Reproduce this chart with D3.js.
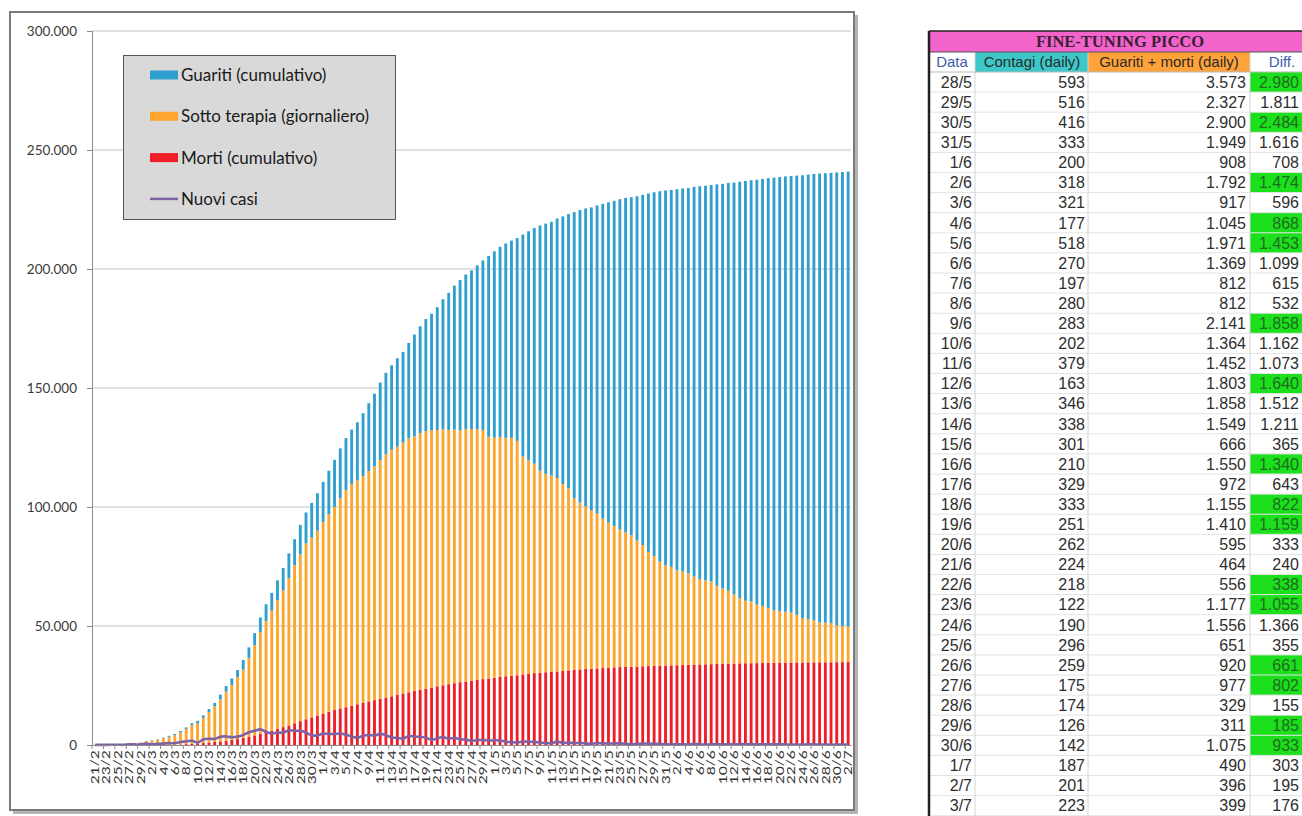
<!DOCTYPE html>
<html>
<head>
<meta charset="utf-8">
<script src="https://cdn.jsdelivr.net/npm/d3@7"></script>
<style>
  body { margin: 0; background: #fff; }
  svg { display: block; }
</style>
</head>
<body>
<script>
// categories: one per day, 21/2 .. 2/7
var dates = [
  "21/2","22/2","23/2","24/2","25/2","26/2","27/2","28/2","29/2",
  "1/3","2/3","3/3","4/3","5/3","6/3","7/3","8/3","9/3","10/3","11/3","12/3","13/3","14/3","15/3","16/3",
  "17/3","18/3","19/3","20/3","21/3","22/3","23/3","24/3","25/3","26/3","27/3","28/3","29/3","30/3","31/3",
  "1/4","2/4","3/4","4/4","5/4","6/4","7/4","8/4","9/4","10/4","11/4","12/4","13/4","14/4","15/4",
  "16/4","17/4","18/4","19/4","20/4","21/4","22/4","23/4","24/4","25/4","26/4","27/4","28/4","29/4","30/4",
  "1/5","2/5","3/5","4/5","5/5","6/5","7/5","8/5","9/5","10/5","11/5","12/5","13/5","14/5","15/5","16/5",
  "17/5","18/5","19/5","20/5","21/5","22/5","23/5","24/5","25/5","26/5","27/5","28/5","29/5","30/5","31/5",
  "1/6","2/6","3/6","4/6","5/6","6/6","7/6","8/6","9/6","10/6","11/6","12/6","13/6","14/6","15/6",
  "16/6","17/6","18/6","19/6","20/6","21/6","22/6","23/6","24/6","25/6","26/6","27/6","28/6","29/6","30/6",
  "1/7","2/7"
];

// Morti (cumulativo)
var morti = [
  1,2,3,7,10,12,17,21,29,
  34,52,79,107,148,197,233,366,463,631,827,1016,1266,1441,1809,2158,2503,2978,3405,4032,4825,5476,6077,6820,7503,8165,9134,10023,10779,11591,12428,
  13155,13915,14681,15362,15887,16523,17127,17669,18279,18849,19468,19899,20465,21067,21645,22170,22745,23227,23660,24114,24648,25085,25549,25969,26384,26644,26977,27359,27682,27967,
  28236,28710,28884,29079,29315,29684,29958,30201,30395,30560,30739,30911,31106,31368,31610,31763,31908,32007,32169,32330,32486,32616,32735,32785,32877,32955,33072,33142,33229,33340,33415,
  33475,33530,33601,33689,33774,33846,33899,33964,34043,34114,34167,34223,34301,34345,34371,34405,34448,34514,34561,34610,34634,34657,34675,34678,34708,34716,34738,34744,34767,34788,
  34818,34833
];

// Sotto terapia (giornaliero)
var terapia = [
  19,77,149,221,311,385,588,821,1049,
  1577,1835,2263,2706,3296,3916,5061,6387,7985,8514,10590,12839,14955,17750,20603,23073,26062,28710,33190,37860,42681,46638,50418,54030,57521,62013,66414,70065,73880,75528,77635,
  80572,83049,85388,88274,91246,93187,94067,95262,96877,98273,100269,102253,103616,104291,105418,106607,106962,107771,108257,108237,107709,107699,106848,106527,105847,106103,105813,105205,104657,101551,
  100943,100704,100179,99980,98467,91528,89624,87961,84842,83324,82488,81266,78457,76440,72070,70187,68351,66553,65129,62752,60960,59322,57752,56594,55300,52942,50966,47986,46175,43691,42075,
  41367,39893,39297,38429,36976,35877,35262,34730,32872,31710,30637,28997,27485,26274,25909,24569,23925,23101,21942,21609,21369,21031,19976,18610,18255,17594,16792,16637,16452,15519,
  15216,15021
];

// Guariti (cumulativo)
var guariti = [
  0,0,0,1,1,3,45,46,50,
  83,149,160,276,414,523,589,622,724,1004,1045,1258,1439,1966,2335,2749,2941,4025,4440,5129,6072,7024,7432,8326,9362,10361,10950,12384,13030,14620,15729,
  16847,18278,19758,20996,21815,22837,24392,26491,28470,30455,32534,34211,35435,37130,38092,40164,42727,44927,47055,48877,51600,54543,57576,60498,63120,64928,66624,68941,71252,75945,
  78249,79914,81654,82879,85231,93245,96276,99023,103031,105186,106587,109039,112541,115288,120205,122810,125176,127326,129401,132282,134560,136720,138840,140479,141981,144658,147101,150604,152844,155633,157507,
  158355,160092,160938,161895,163781,165078,165837,166584,168646,169939,171338,173085,174865,176370,177010,178526,179455,180544,181907,182453,182893,183426,184585,186111,186725,187615,188584,188891,189196,190248,
  190717,191083
];

// Nuovi casi
var nuovi = [
  20,59,71,79,93,78,250,238,240,
  566,342,466,587,769,778,1247,1492,1797,977,2313,2651,2547,3497,3590,3233,3526,4207,5322,5986,6557,5560,4789,5249,5210,6153,5959,5974,5217,4050,4053,
  4782,4668,4585,4805,4316,3599,3039,3836,4204,3951,4694,4092,3153,2972,2667,3786,3493,3491,3047,2256,2729,3370,2646,3021,2357,2324,1739,2091,2086,1872,
  1965,1900,1389,1221,1075,1444,1401,1327,1083,802,744,1402,888,992,789,875,675,451,813,665,642,652,669,531,300,397,584,593,516,416,333,
  200,318,321,177,518,270,197,280,283,202,379,163,346,338,301,210,329,333,251,262,224,218,122,190,296,259,175,174,126,142,
  187,201
];

var yTicks = [0, 50000, 100000, 150000, 200000, 250000, 300000];

// table "FINE-TUNING PICCO"
var tblDate = ["28/5","29/5","30/5","31/5","1/6","2/6","3/6","4/6","5/6","6/6","7/6","8/6","9/6","10/6","11/6","12/6","13/6","14/6","15/6","16/6","17/6","18/6","19/6","20/6","21/6","22/6","23/6","24/6","25/6","26/6","27/6","28/6","29/6","30/6","1/7","2/7","3/7"];
var tblContagi = [593,516,416,333,200,318,321,177,518,270,197,280,283,202,379,163,346,338,301,210,329,333,251,262,224,218,122,190,296,259,175,174,126,142,187,201,223];
var tblGuarMorti = [3573,2327,2900,1949,908,1792,917,1045,1971,1369,812,812,2141,1364,1452,1803,1858,1549,666,1550,972,1155,1410,595,464,556,1177,1556,651,920,977,329,311,1075,490,396,399];
var tblDiff = [2980,1811,2484,1616,708,1474,596,868,1453,1099,615,532,1858,1162,1073,1640,1512,1211,365,1340,643,822,1159,333,240,338,1055,1366,355,661,802,155,185,933,303,195,176];
var tblGreen = [1,0,1,0,0,1,0,1,1,0,0,0,1,0,0,1,0,0,0,1,0,1,1,0,0,1,1,0,0,1,1,0,1,1,0,0,0];

var it = d3.formatLocale({decimal: ",", thousands: ".", grouping: [3], currency: ["€", ""]});
var fmt = it.format(",d");

var W = 1302, H = 816;
var svg = d3.select("body").append("svg").attr("width", W).attr("height", H);
svg.append("rect").attr("width", W).attr("height", H).attr("fill", "#fff");

// chart frame with a shadow
svg.append("rect").attr("x", 13).attr("y", 15).attr("width", 845).attr("height", 799).attr("fill", "#b4b4b4");
svg.append("rect").attr("x", 10).attr("y", 12).attr("width", 844).attr("height", 798)
  .attr("fill", "#fff").attr("stroke", "#7a7a7a").attr("stroke-width", 2);

var rows = dates.map(function(d, i) {
  return {date: d, morti: morti[i], terapia: terapia[i], guariti: guariti[i], nuovi: nuovi[i]};
});

var x = d3.scaleBand().domain(dates).range([92, 851]).paddingInner(0.5).paddingOuter(0.25);
var y = d3.scaleLinear().domain([0, 300000]).range([745, 31]);

var g = svg.append("g");

// gridlines
g.selectAll("line.grid").data(yTicks.slice(1)).enter().append("line")
  .attr("class", "grid")
  .attr("x1", 92).attr("x2", 851)
  .attr("y1", function(d) { return y(d); }).attr("y2", function(d) { return y(d); })
  .attr("stroke", "#c4c4c4").attr("stroke-width", 1.2);

// stacked bars
var keys = ["morti", "terapia", "guariti"];
var colors = {morti: "#ef1d26", terapia: "#ffa52e", guariti: "#2f9fcf"};
var series = d3.stack().keys(keys)(rows);

g.selectAll("g.series").data(series).enter().append("g")
  .attr("class", "series")
  .attr("fill", function(s) { return colors[s.key]; })
  .selectAll("rect").data(function(s) { return s; }).enter().append("rect")
  .attr("x", function(d) { return x(d.data.date); })
  .attr("width", x.bandwidth())
  .attr("y", function(d) { return y(d[1]); })
  .attr("height", function(d) { return y(d[0]) - y(d[1]); });

// y axis
var yAxis = d3.axisLeft(y).tickValues(yTicks).tickSize(5).tickPadding(10).tickFormat(fmt);
var ya = svg.append("g").attr("transform", "translate(92,0)").call(yAxis);
ya.select(".domain").attr("stroke", "#8c8c8c");
ya.selectAll(".tick line").attr("stroke", "#8c8c8c");
ya.selectAll("text").attr("font-family", "Lato, 'Open Sans', sans-serif").attr("font-size", 13.5).attr("fill", "#3a3a3a");

// x axis
var xLabels = dates.filter(function(d, i) { return i % 2 === 0; });
var xAxis = d3.axisBottom(x).tickValues(xLabels).tickSize(0);
var xa = svg.append("g").attr("transform", "translate(0,745)").call(xAxis);
xa.select(".domain").attr("stroke", "#8c8c8c");
xa.selectAll("text")
  .attr("transform", "rotate(-90) scale(1.3,1)")
  .attr("x", -4).attr("y", 0).attr("dy", "0.35em")
  .attr("text-anchor", "end")
  .attr("font-family", "Lato, 'Open Sans', sans-serif").attr("font-size", 12)
  .attr("fill", "#333");
// tick marks between categories, every 2 days
xa.selectAll("line.tk").data(xLabels).enter().append("line")
  .attr("class", "tk")
  .attr("x1", function(d) { return x(d) - x.step() * 0.25; })
  .attr("x2", function(d) { return x(d) - x.step() * 0.25; })
  .attr("y1", 0).attr("y2", 4)
  .attr("stroke", "#8c8c8c");

// nuovi casi line
var line = d3.line()
  .x(function(d) { return x(d.date) + x.bandwidth() / 2; })
  .y(function(d) { return y(d.nuovi); })
  .curve(d3.curveCatmullRom);
g.append("path").datum(rows)
  .attr("d", line)
  .attr("fill", "none")
  .attr("stroke", "#7d62a6")
  .attr("stroke-width", 2.6);

// legend
var legend = svg.append("g");
legend.append("rect").attr("x", 123.5).attr("y", 55.5).attr("width", 272).attr("height", 164)
  .attr("fill", "#d9d9d9").attr("stroke", "#555").attr("stroke-width", 1);
var legItems = [
  {label: "Guariti (cumulativo)", color: colors.guariti, type: "box"},
  {label: "Sotto terapia (giornaliero)", color: colors.terapia, type: "box"},
  {label: "Morti (cumulativo)", color: colors.morti, type: "box"},
  {label: "Nuovi casi", color: "#7d62a6", type: "line"}
];
var li = legend.selectAll("g.item").data(legItems).enter().append("g")
  .attr("class", "item")
  .attr("transform", function(d, i) { return "translate(0," + (75 + i * 41.3) + ")"; });
li.filter(function(d) { return d.type === "box"; }).append("rect")
  .attr("x", 150).attr("y", -4.5).attr("width", 28).attr("height", 9)
  .attr("fill", function(d) { return d.color; });
li.filter(function(d) { return d.type === "line"; }).append("line")
  .attr("x1", 150).attr("x2", 178).attr("y1", 0).attr("y2", 0)
  .attr("stroke", function(d) { return d.color; }).attr("stroke-width", 2.5);
li.append("text").attr("x", 181).attr("y", 0).attr("dy", "0.35em")
  .attr("font-family", "Lato, 'Open Sans', sans-serif").attr("font-size", 17)
  .attr("fill", "#1a1a1a")
  .text(function(d) { return d.label; });

// table
var tx0 = 929, tTop = 31, titleH = 21, headH = 20, rowH = 20.1;
var cols = [929, 975, 1088, 1250, 1340];
var rowTop = tTop + titleH + headH;
var tbl = svg.append("g");
var tblFont = "'Liberation Sans', Arial, sans-serif";

tbl.append("rect").attr("x", tx0).attr("y", tTop).attr("width", W - tx0).attr("height", titleH).attr("fill", "#f264cb");
tbl.append("text").attr("x", 1120).attr("y", tTop + titleH / 2).attr("dy", "0.36em")
  .attr("text-anchor", "middle").attr("font-family", "'Liberation Serif', 'DejaVu Serif', serif")
  .attr("font-weight", "bold").attr("font-size", 16.5).attr("fill", "#3b1f35")
  .text("FINE-TUNING PICCO");

var headers = [
  {label: "Data", bg: "#fff", color: "#3f5ba9", cx: 952},
  {label: "Contagi (daily)", bg: "#3cc8c8", color: "#2a2a2a", cx: 1032},
  {label: "Guariti + morti (daily)", bg: "#ffa23a", color: "#2a2a2a", cx: 1169},
  {label: "Diff.", bg: "#fff", color: "#3f5ba9", cx: 1282}
];
headers.forEach(function(h, i) {
  tbl.append("rect").attr("x", cols[i]).attr("y", tTop + titleH).attr("width", cols[i + 1] - cols[i]).attr("height", headH)
    .attr("fill", h.bg);
  tbl.append("text").attr("x", h.cx)
    .attr("y", tTop + titleH + headH / 2).attr("dy", "0.36em")
    .attr("text-anchor", "middle").attr("font-family", tblFont).attr("font-size", 15)
    .attr("fill", h.color).text(h.label);
});

// green cells in Diff column
tbl.selectAll("rect.green").data(tblDiff.map(function(d, i) { return i; }).filter(function(i) { return tblGreen[i] === 1; }))
  .enter().append("rect")
  .attr("class", "green")
  .attr("x", cols[3]).attr("width", cols[4] - cols[3])
  .attr("y", function(i) { return rowTop + i * rowH; })
  .attr("height", rowH)
  .attr("fill", "#1de01d");

// row lines
tbl.selectAll("line.rl").data(tblDate).enter().append("line")
  .attr("x1", tx0).attr("x2", W)
  .attr("y1", function(d, i) { return rowTop + (i + 1) * rowH; })
  .attr("y2", function(d, i) { return rowTop + (i + 1) * rowH; })
  .attr("stroke", "#e4e4e4").attr("stroke-width", 1);
// column lines
[1, 2, 3].forEach(function(c) {
  tbl.append("line").attr("x1", cols[c]).attr("x2", cols[c]).attr("y1", tTop + titleH).attr("y2", H)
    .attr("stroke", "#d4d4d4").attr("stroke-width", 1);
});
// borders
tbl.append("line").attr("x1", tx0).attr("x2", W).attr("y1", tTop).attr("y2", tTop).attr("stroke", "#222").attr("stroke-width", 1.5);
tbl.append("line").attr("x1", tx0).attr("x2", W).attr("y1", tTop + titleH).attr("y2", tTop + titleH).attr("stroke", "#555").attr("stroke-width", 1);
tbl.append("line").attr("x1", tx0).attr("x2", W).attr("y1", rowTop).attr("y2", rowTop).attr("stroke", "#bbb").attr("stroke-width", 1);
tbl.append("line").attr("x1", tx0).attr("x2", tx0).attr("y1", tTop).attr("y2", H).attr("stroke", "#222").attr("stroke-width", 2.5);

function cellText(arr, xr, isNum, isDiff) {
  tbl.selectAll(null).data(arr).enter().append("text")
    .attr("x", xr)
    .attr("y", function(d, i) { return rowTop + i * rowH + rowH / 2; })
    .attr("dy", "0.36em")
    .attr("text-anchor", "end")
    .attr("font-family", tblFont).attr("font-size", 16)
    .attr("fill", function(d, i) { return (isDiff && tblGreen[i]) ? "#1f6b1f" : "#2e2e2e"; })
    .text(function(d) { return isNum ? fmt(d) : d; });
}
cellText(tblDate, 972, false, false);
cellText(tblContagi, 1085, true, false);
cellText(tblGuarMorti, 1246, true, false);
cellText(tblDiff, 1299, true, true);
</script>
</body>
</html>
